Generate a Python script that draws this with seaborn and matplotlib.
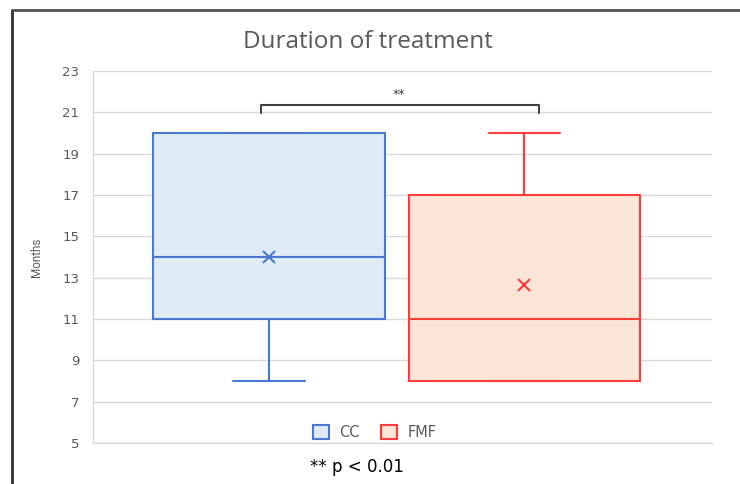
import matplotlib
matplotlib.use("Agg")
import matplotlib.pyplot as plt
import seaborn as sns
import pandas as pd
from matplotlib.patches import Patch
from matplotlib.lines import Line2D

groups = ["CC", "FMF"]
cc_months = [8, 8, 11, 11, 14, 14, 20, 20, 20]
fmf_months = [8, 8, 8, 11, 11, 14, 17, 17, 20]
fills = ["#DEEAF6", "#FBE5D6"]
edges = ["#4A78D0", "#FF3B3B"]
yticks = [5, 7, 9, 11, 13, 15, 17, 19, 21, 23]

df = pd.DataFrame({
    "group": ["CC"] * len(cc_months) + ["FMF"] * len(fmf_months),
    "months": cc_months + fmf_months,
})

sns.set_theme(style="white")
plt.rcParams["font.family"] = ["DejaVu Sans"]

fig = plt.figure(figsize=(7.4, 4.84), dpi=100)
ax = fig.add_axes([93 / 740, 1 - 443 / 484, (712 - 93) / 740, (443 - 71) / 484])

for g, fc, ec in zip(groups, fills, edges):
    sub = df[df["group"] == g]
    sns.boxplot(data=sub, x="group", y="months", order=groups, color=fc,
                linecolor=ec, saturation=1, width=0.908, linewidth=1.5,
                showmeans=True, whis=1.5,
                meanprops=dict(marker="x", markeredgecolor=ec, markerfacecolor=ec,
                               markersize=9, markeredgewidth=1.5),
                ax=ax)

# cap widths ~0.28 of category spacing
for line in ax.lines:
    xd = list(line.get_xdata())
    yd = list(line.get_ydata())
    if len(xd) == 2 and yd[0] == yd[1] and abs(xd[1] - xd[0]) < 0.9 and abs(xd[1] - xd[0]) > 0.01:
        c = (xd[0] + xd[1]) / 2
        line.set_xdata([c - 0.14, c + 0.14])

ax.set_xlim(-0.689, 1.734)
ax.set_ylim(5, 23)
ax.set_yticks(yticks)
ax.set_yticklabels([str(t) for t in yticks], color="#595959", fontsize=9.5)
ax.set_xticks([])
ax.set_xlabel("")
ax.set_ylabel("Months", color="#595959", fontsize=8.5,
              fontfamily=["Liberation Sans Narrow", "Roboto"], labelpad=14)
ax.tick_params(axis="y", length=0, pad=10)
ax.grid(axis="y", color="#D9D9D9", linewidth=1)
ax.set_axisbelow(True)
for s in ["top", "right"]:
    ax.spines[s].set_visible(False)
for s in ["left", "bottom"]:
    ax.spines[s].set_color("#D9D9D9")
    ax.spines[s].set_linewidth(1)

# significance bracket
ax.plot([-0.03, -0.03, 1.055, 1.055], [20.97, 21.35, 21.35, 20.97], color="#404040", lw=1.5,
        clip_on=False)
ax.text(0.51, 21.55, "**", ha="center", va="bottom", fontsize=9, color="#404040")

handles = [Patch(facecolor=fc, edgecolor=ec, linewidth=1.5, label=g)
           for g, fc, ec in zip(groups, fills, edges)]
leg = ax.legend(handles=handles, loc="lower center", bbox_to_anchor=(0.455, -0.026), ncol=2,
                frameon=False, fontsize=10.5, handlelength=1.1, handleheight=1.1,
                columnspacing=1.5, handletextpad=0.7)
for t in leg.get_texts():
    t.set_color("#595959")

fig.text(368 / 740, 1 - 42 / 484, "Duration of treatment", ha="center", va="center",
         fontsize=17.5, color="#595959", fontfamily="Open Sans")
fig.text(357 / 740, 1 - 467 / 484, "** p < 0.01", ha="center", va="center",
         fontsize=12, color="black", fontfamily="DejaVu Sans")

# outer frame (left and top)
fig.add_artist(Line2D([12 / 740, 12 / 740], [0, 1 - 10 / 484], color="#303030", lw=2,
                      transform=fig.transFigure))
fig.add_artist(Line2D([12 / 740, 1], [1 - 10 / 484, 1 - 10 / 484], color="#505050", lw=2,
                      transform=fig.transFigure))

fig.savefig("out.png", dpi=100)
